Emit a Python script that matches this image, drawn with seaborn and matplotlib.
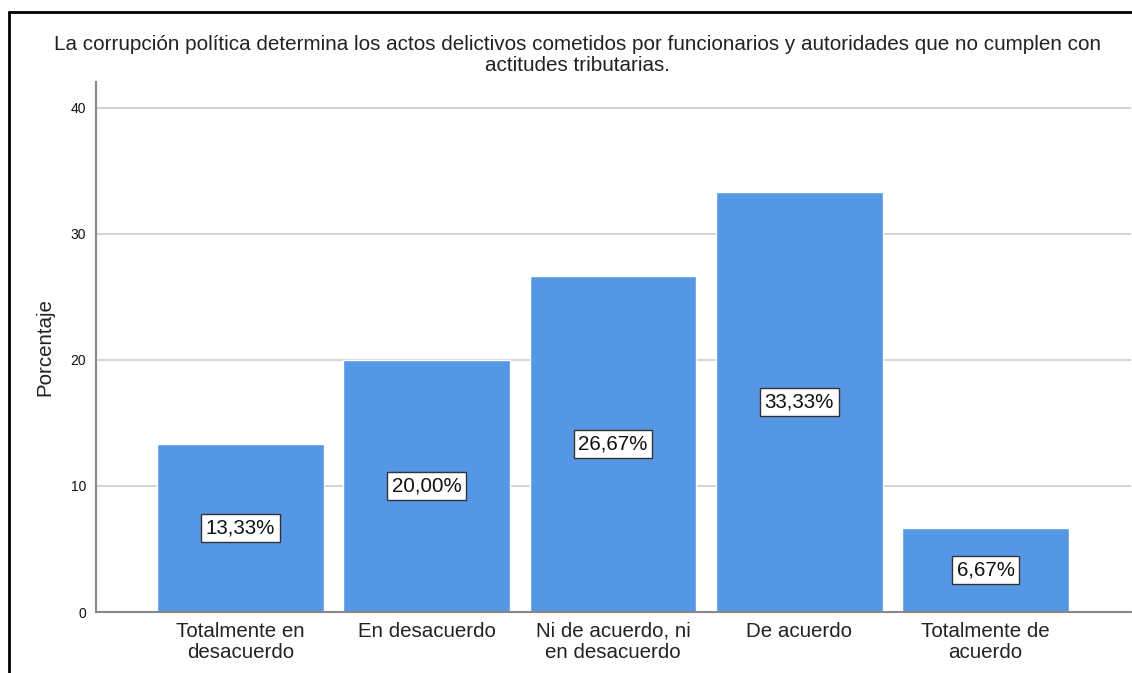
import numpy as np
import pandas as pd
import matplotlib
matplotlib.use("Agg")
import matplotlib.pyplot as plt
import seaborn as sns
from matplotlib.lines import Line2D

# data
categorias = ["Totalmente en\ndesacuerdo", "En desacuerdo", "Ni de acuerdo, ni\nen desacuerdo",
              "De acuerdo", "Totalmente de\nacuerdo"]
porcentajes = [13.33, 20.00, 26.67, 33.33, 6.67]
etiquetas = ["13,33%", "20,00%", "26,67%", "33,33%", "6,67%"]
y_ticks = [0, 10, 20, 30, 40]
titulo = ("La corrupción política determina los actos delictivos cometidos por funcionarios y autoridades que no cumplen con\n"
          "actitudes tributarias.")

df = pd.DataFrame({"categoria": categorias, "porcentaje": porcentajes})

sns.set_style("white")
plt.rcParams["font.family"] = ["Liberation Sans", "DejaVu Sans"]

fig = plt.figure(figsize=(11.32, 6.73), dpi=100)
ax = fig.add_axes([96 / 1132, 1 - 612 / 673, (1131 - 96) / 1132, (612 - 82) / 673])

sns.barplot(data=df, x="categoria", y="porcentaje", color="#5596e5", saturation=1,
            width=0.895, ax=ax, zorder=2)

# value boxes in the middle of each bar
for i, (v, lab) in enumerate(zip(porcentajes, etiquetas)):
    ax.text(i, v / 2, lab, ha="center", va="center", fontsize=14.8, color="#111111", zorder=3,
            bbox=dict(boxstyle="square,pad=0.22", fc="white", ec="#333333", lw=1))

ax.set_xlim(-0.775, 4.78)
ax.set_ylim(0, 42.06)
ax.set_yticks(y_ticks)
ax.yaxis.grid(True, color="#d4d4d4", lw=1.5, zorder=0)
ax.set_axisbelow(True)
ax.tick_params(axis="y", length=0, pad=7, labelsize=10, labelcolor="#111111")
ax.tick_params(axis="x", length=0, pad=7, labelsize=14.8, labelcolor="#222222")
for lab in ax.get_xticklabels():
    lab.set_linespacing(1.15)
ax.set_xlabel("")
ax.set_ylabel("Porcentaje", fontsize=14.8, labelpad=12, color="#222222")
for s in ["top", "right"]:
    ax.spines[s].set_visible(False)
for s in ["left", "bottom"]:
    ax.spines[s].set_color("#888888")
    ax.spines[s].set_linewidth(1.5)

fig.text(577 / 1132, 1 - 55 / 673, titulo, ha="center", va="center", fontsize=14.9,
         linespacing=1.12, color="#222222")

# frame around the output
fig.add_artist(Line2D([9 / 1132, 9 / 1132], [0, 1 - 12 / 673], color="black", lw=2))
fig.add_artist(Line2D([9 / 1132, 1], [1 - 12 / 673, 1 - 12 / 673], color="black", lw=2))

fig.savefig("out.png", dpi=100)
